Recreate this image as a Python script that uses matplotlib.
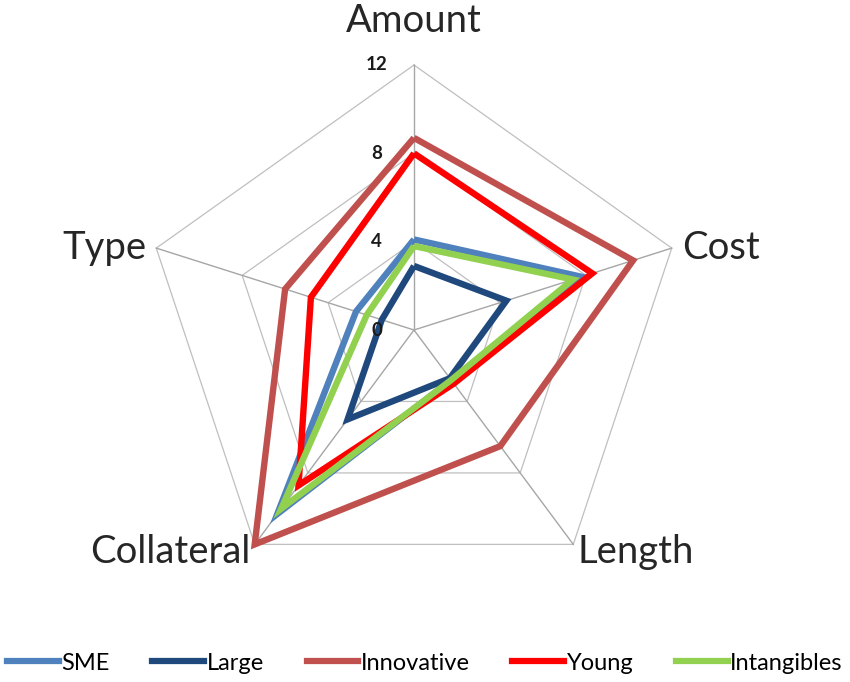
import numpy as np
import matplotlib
matplotlib.use("Agg")
import matplotlib.pyplot as plt
from matplotlib.lines import Line2D

categories = ["Amount", "Cost", "Length", "Collateral", "Type"]
series_names = ["SME", "Large", "Innovative", "Young", "Intangibles"]
sme = [4.1, 7.8, 2.8, 10.3, 2.7]
large = [2.9, 4.3, 2.7, 5.0, 1.5]
innovative = [8.7, 10.2, 6.5, 12.0, 6.0]
young = [8.0, 8.3, 3.0, 8.7, 4.8]
intangibles = [3.8, 7.4, 2.8, 10.0, 2.2]
ticks = [0, 4, 8, 12]
rmax = 12

colors = ["#4F81BD", "#1F497D", "#C0504D", "#FF0000", "#92D050"]
values = [sme, large, innovative, young, intangibles]

fig = plt.figure(figsize=(8.5, 6.82), dpi=100)
ax = fig.add_axes([0, 0, 1, 1])
ax.set_xlim(-414 / 271 * rmax, (850 - 414) / 271 * rmax)
ax.set_ylim(-352 / 265 * rmax, (682 - 352) / 265 * rmax)
ax.axis("off")

n = len(categories)
theta = np.deg2rad(90 - 72 * np.arange(n))
ct, st = np.cos(theta), np.sin(theta)

# grid pentagons
for t in ticks[1:]:
    xs = np.append(t * ct, t * ct[0])
    ys = np.append(t * st, t * st[0])
    ax.plot(xs, ys, color="#BFBFBF", lw=0.9, zorder=1)
# spokes
for i in range(n):
    ax.plot([0, rmax * ct[i]], [0, rmax * st[i]], color="#A6A6A6", lw=1.0, zorder=1)

# series
for name, vals, c in zip(series_names, values, colors):
    v = np.array(vals + vals[:1])
    ax.plot(v * np.append(ct, ct[0]), v * np.append(st, st[0]), color=c, lw=4.6,
            solid_joinstyle="miter", solid_capstyle="butt", zorder=3, label=name)

# tick labels
for t in ticks:
    ax.text(-1.65, t, str(t), ha="center", va="center", fontsize=13.5, fontweight="bold",
            color="#1a1a1a", family="Lato", zorder=4)

# category labels
lab_font = dict(fontsize=27.5, color="#262626", family="Lato")
ax.text(0, rmax + 2.0, categories[0], ha="center", va="center", **lab_font)
ax.text(rmax * ct[1] + 0.45, rmax * st[1], categories[1], ha="left", va="center", **lab_font)
ax.text(rmax * ct[2] + 0.2, rmax * st[2] - 0.35, categories[2], ha="left", va="center", **lab_font)
ax.text(rmax * ct[3] - 0.2, rmax * st[3] - 0.35, categories[3], ha="right", va="center", **lab_font)
ax.text(rmax * ct[4] - 0.45, rmax * st[4], categories[4], ha="right", va="center", **lab_font)

handles = [Line2D([0], [0], color=c, lw=4.5) for c in colors]
fig.legend(handles, series_names, loc="center", bbox_to_anchor=(0.5, 1 - 663 / 682),
           ncol=5, frameon=False, prop={"family": "Lato", "size": 17},
           handlelength=2.2, handletextpad=0.1, columnspacing=1.8)

fig.savefig("out.png", dpi=100, facecolor="white")
